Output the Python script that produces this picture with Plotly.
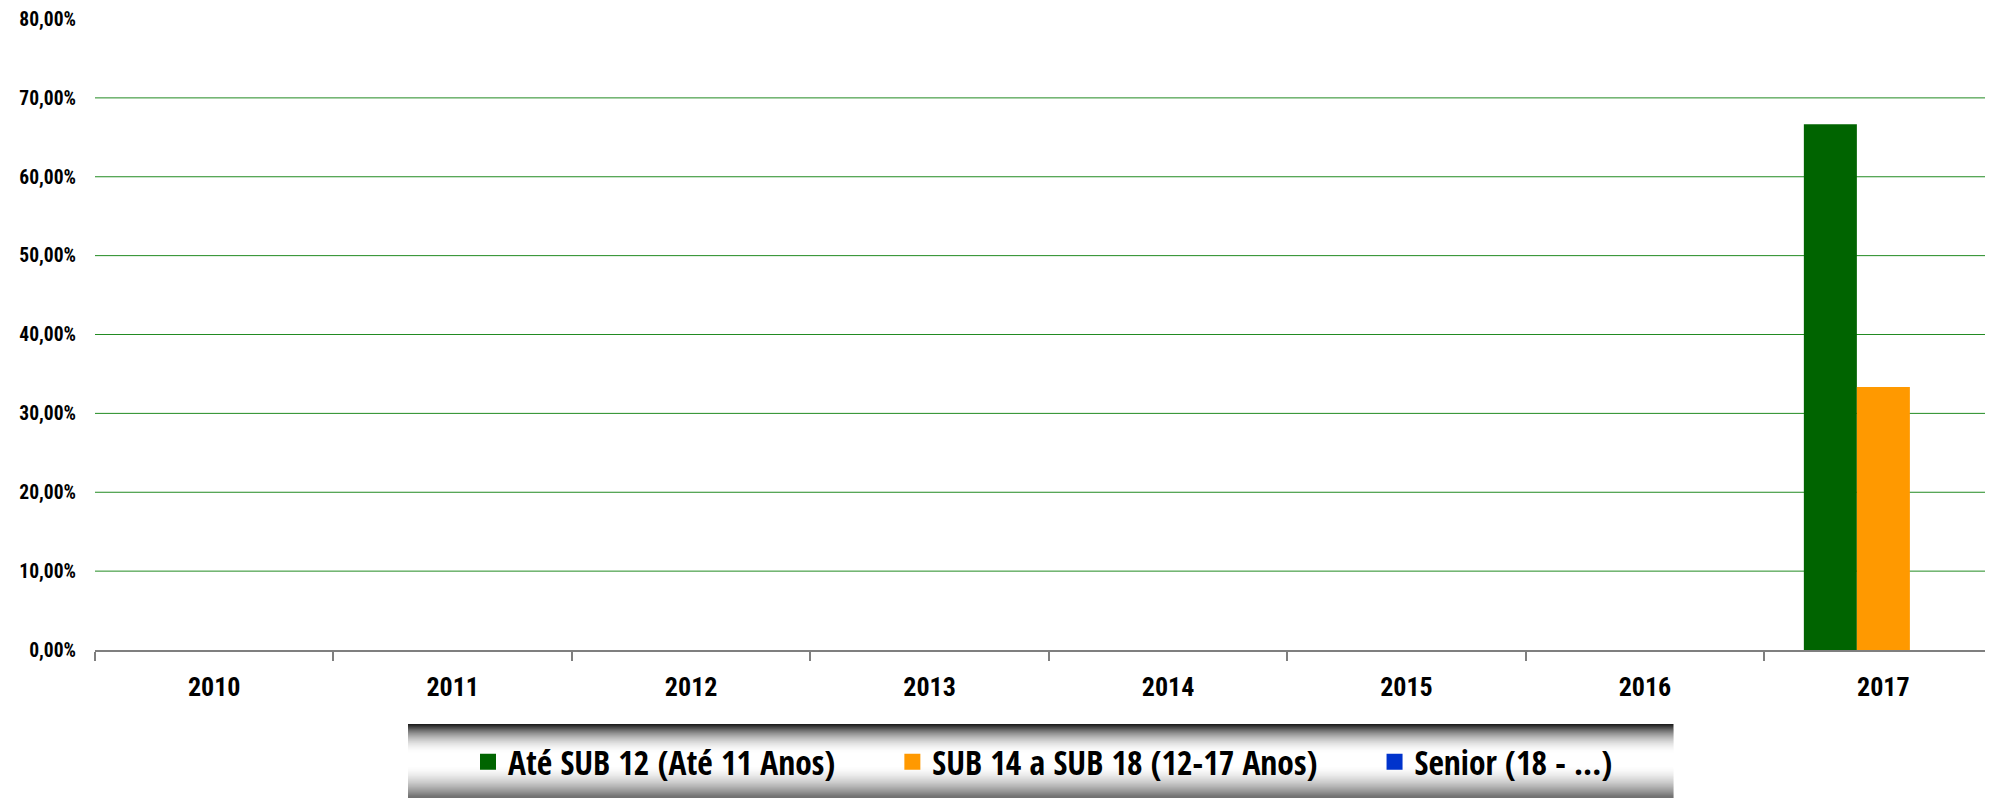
import plotly.graph_objects as go

# --- data ---
years = ["2010", "2011", "2012", "2013", "2014", "2015", "2016", "2017"]
series_names = ["Até SUB 12 (Até 11 Anos)", "SUB 14 a SUB 18 (12-17 Anos)", "Senior (18 - ...)"]
sub12 = [0, 0, 0, 0, 0, 0, 0, 0.6667]
sub14_18 = [0, 0, 0, 0, 0, 0, 0, 0.3333]
senior = [0, 0, 0, 0, 0, 0, 0, 0]
y_ticks = [0, 0.1, 0.2, 0.3, 0.4, 0.5, 0.6, 0.7, 0.8]

colors = ["#006400", "#FF9900", "#0033CC"]
W, H = 1993, 798
OFF = 8  # page body margin
ML, MT = 95 - OFF, 18.5 - OFF
MB = H - (650.5 - OFF)
plot_h = H - MT - MB
cat_w = 238.45  # px per category

fig = go.Figure()
pad = "\u00a0" * 6
for i, (name, vals) in enumerate(zip(series_names, [sub12, sub14_18, senior])):
    label = name + (pad if i < len(series_names) - 1 else "")
    fig.add_trace(go.Bar(x=years, y=vals, name=label, legendgroup=name, showlegend=False,
                         marker=dict(color=colors[i], line=dict(width=0))))
    # legend entry with a larger square swatch
    fig.add_trace(go.Scatter(x=[years[0]], y=[None], mode="markers", name=label, legendgroup=name,
                             marker=dict(symbol="square", size=16, color=colors[i]), hoverinfo="skip"))

# gridlines (no line at the top 80% tick)
shapes = []
for v in y_ticks[1:-1]:
    shapes.append(dict(type="line", xref="paper", yref="y", x0=0, x1=1, y0=v, y1=v,
                       line=dict(color="#228B22", width=1), layer="below"))

# legend band with a dark-white-dark vertical gradient (screen px)
def px_x(X): return (X - OFF - ML) / (W - ML)
def px_y(Y): return (H - MB - (Y - OFF)) / plot_h

band_top, band_bot = 724.5, 806
n = int(band_bot - band_top)
for k in range(n):
    t = (k + 0.5) / 73
    if t < 0.42:
        s = t / 0.42
        v = 22 + (255 - 22) * (1 - (1 - s) ** 2.0)
    elif t < 0.58:
        v = 255
    else:
        s = min((t - 0.58) / 0.42, 1)
        v = 255 - (255 - 80) * s ** 1.6
    c = int(round(v))
    shapes.append(dict(type="rect", xref="paper", yref="paper",
                       x0=px_x(408), x1=px_x(1673.5), y0=px_y(band_top + k + 1.05), y1=px_y(band_top + k),
                       fillcolor=f"rgb({c},{c},{c})", line=dict(width=0), layer="below"))

fig.update_layout(
    width=W, height=H,
    margin=dict(l=ML, r=0, t=MT, b=MB, autoexpand=False),
    plot_bgcolor="white", paper_bgcolor="white",
    separators=",.",
    barmode="group", bargap=0.333, bargroupgap=0,
    shapes=shapes,
    showlegend=True,
    legend=dict(orientation="h", xref="container", yref="container",
                x=1035 / W, xanchor="center", y=1 - (762 - OFF) / H, yanchor="middle",
                bgcolor="rgba(0,0,0,0)", itemclick=False, itemdoubleclick=False,
                font=dict(family="Open Sans Condensed, Roboto Condensed, sans-serif", size=33.5, color="black", weight="bold")),
    font=dict(family="Roboto Condensed, sans-serif", color="black"),
)
fig.update_xaxes(
    type="category", range=[-0.5, -0.5 + (W - ML) / cat_w],
    showgrid=False, showline=True, linecolor="#7f7f7f", linewidth=1.5,
    ticks="outside", tickson="boundaries", ticklen=9, tickcolor="#7f7f7f", tickwidth=1.5,
    ticklabelstandoff=13,
    tickfont=dict(size=26, family="Roboto Condensed, sans-serif", weight="bold"),
)
fig.update_yaxes(
    range=[0, 0.8], tickvals=y_ticks, tickformat=".2%",
    showgrid=False, zeroline=False, showline=False, ticks="",
    ticklabelstandoff=18, ticklabeloverflow="allow",
    tickfont=dict(size=19.5, family="Roboto Condensed, sans-serif", weight="bold"),
)

fig.write_html("out.html")
